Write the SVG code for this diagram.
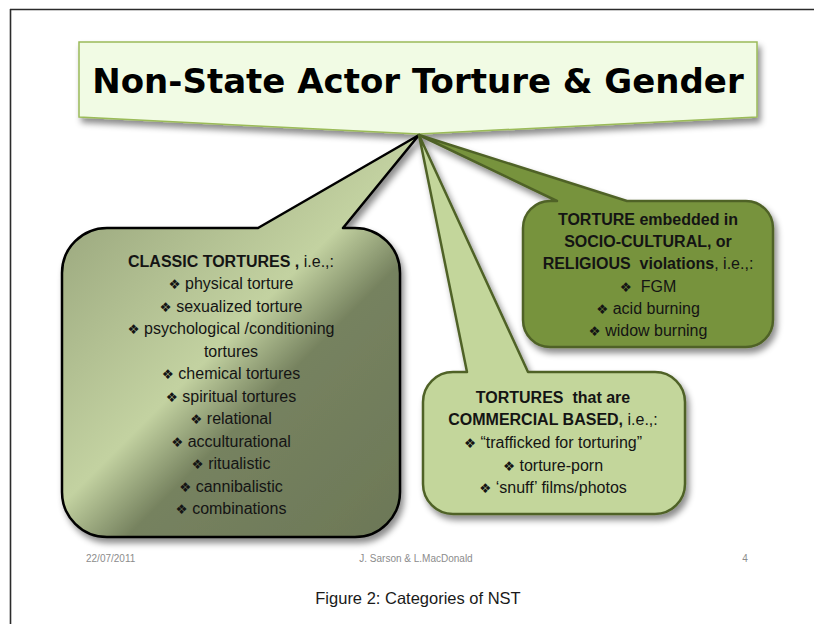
<svg xmlns="http://www.w3.org/2000/svg" width="814" height="624" viewBox="0 0 814 624">
<defs>
<filter id="sh" x="-10%" y="-10%" width="125%" height="125%">
<feGaussianBlur in="SourceAlpha" stdDeviation="3"/>
<feOffset dx="3" dy="5" result="o"/>
<feFlood flood-color="#000" flood-opacity="0.45"/>
<feComposite in2="o" operator="in"/>
<feMerge><feMergeNode/><feMergeNode in="SourceGraphic"/></feMerge>
</filter>
<linearGradient id="gClassic" gradientUnits="userSpaceOnUse" x1="150" y1="150" x2="500" y2="500">
<stop offset="0" stop-color="#9eab81"/>
<stop offset="0.38" stop-color="#c3d2a1"/>
<stop offset="0.52" stop-color="#76825f"/>
<stop offset="1" stop-color="#6a7555"/>
</linearGradient>
<style>
.t{font-family:"Liberation Sans","DejaVu Sans",sans-serif;font-size:16px;fill:#141414;text-anchor:middle}
.bd{font-weight:bold}
.b{font-family:"DejaVu Sans",sans-serif;font-size:13.5px}
.foot{font-family:"Liberation Sans",sans-serif;font-size:10px;fill:#8c8c8c}
.tail{stroke-linejoin:round}
</style>
</defs>
<rect width="814" height="624" fill="#fff"/>
<g id="frame" fill="none" stroke="#2b2b2b" stroke-width="1.6">
<line x1="10" y1="9.5" x2="814" y2="9.5"/>
<line x1="10.5" y1="9" x2="10.5" y2="624"/>
</g>
<g id="title">
<path d="M79,42 L757,42 L757,117 L419,134 L79,117 Z" fill="#f1fbe4" stroke="#9bbb59" stroke-width="1.5" filter="url(#sh)"/>
<text x="418" y="93" font-family="'DejaVu Sans',sans-serif" font-weight="bold" font-size="34" text-anchor="middle" fill="#000">Non-State Actor Torture &amp; Gender</text>
</g>
<g id="connectors"></g>
<g id="classic">
<path class="tail" d="M107,228 L258,228 L419,135 L343,228 L355,228 A45,45 0 0 1 400,273 L400,492 A45,45 0 0 1 355,537 L107,537 A45,45 0 0 1 62,492 L62,273 A45,45 0 0 1 107,228 Z" fill="url(#gClassic)" stroke="#000" stroke-width="2.5" filter="url(#sh)"/>
<text class="t" x="231" y="267"><tspan class="bd">CLASSIC TORTURES ,</tspan> i.e.,:</text>
<text class="t" x="231" y="289"><tspan class="b">❖</tspan> physical torture</text>
<text class="t" x="231" y="312"><tspan class="b">❖</tspan> sexualized torture</text>
<text class="t" x="231" y="334"><tspan class="b">❖</tspan> psychological /conditioning</text>
<text class="t" x="231" y="357">tortures</text>
<text class="t" x="231" y="379"><tspan class="b">❖</tspan> chemical tortures</text>
<text class="t" x="231" y="402"><tspan class="b">❖</tspan> spiritual tortures</text>
<text class="t" x="231" y="424"><tspan class="b">❖</tspan> relational</text>
<text class="t" x="231" y="447"><tspan class="b">❖</tspan> acculturational</text>
<text class="t" x="231" y="469"><tspan class="b">❖</tspan> ritualistic</text>
<text class="t" x="231" y="492"><tspan class="b">❖</tspan> cannibalistic</text>
<text class="t" x="231" y="514"><tspan class="b">❖</tspan> combinations</text>
</g>
<g id="socio">
<path class="tail" d="M550,201 L557,201 L419,135 L627,201 L746,201 A27,27 0 0 1 773,228 L773,320 A27,27 0 0 1 746,347 L550,347 A27,27 0 0 1 523,320 L523,228 A27,27 0 0 1 550,201 Z" fill="#77933c" stroke="#4f6228" stroke-width="2.5" filter="url(#sh)"/>
<text class="t bd" x="648" y="225">TORTURE embedded in</text>
<text class="t bd" x="648" y="247">SOCIO-CULTURAL, or</text>
<text class="t" x="648" y="269" xml:space="preserve"><tspan class="bd">RELIGIOUS  violations</tspan>, i.e.,:</text>
<text class="t" x="648" y="292" xml:space="preserve"><tspan class="b">❖</tspan>  FGM</text>
<text class="t" x="648" y="314"><tspan class="b">❖</tspan> acid burning</text>
<text class="t" x="648" y="336"><tspan class="b">❖</tspan> widow burning</text>
</g>
<g id="commercial">
<path class="tail" d="M453,372 L467,372 L419,135 L528,372 L655,372 A30,30 0 0 1 685,402 L685,484 A30,30 0 0 1 655,514 L453,514 A30,30 0 0 1 423,484 L423,402 A30,30 0 0 1 453,372 Z" fill="#c3d69b" stroke="#4f6228" stroke-width="2.5" filter="url(#sh)"/>
<text class="t bd" x="553" y="403" xml:space="preserve">TORTURES  that are</text>
<text class="t" x="553" y="425"><tspan class="bd">COMMERCIAL BASED,</tspan> i.e.,:</text>
<text class="t" x="553" y="448"><tspan class="b">❖</tspan> “trafficked for torturing”</text>
<text class="t" x="553" y="471"><tspan class="b">❖</tspan> torture-porn</text>
<text class="t" x="553" y="493"><tspan class="b">❖</tspan> ‘snuff’ films/photos</text>
</g>
<g id="footer">
<text class="foot" x="86" y="562">22/07/2011</text>
<text class="foot" x="416" y="562" text-anchor="middle">J. Sarson &amp; L.MacDonald</text>
<text class="foot" x="745" y="562" text-anchor="middle">4</text>
<text x="418" y="604" font-family="'Liberation Sans',sans-serif" font-size="16.5" fill="#1a1a1a" text-anchor="middle">Figure 2: Categories of NST</text>
</g>
</svg>
